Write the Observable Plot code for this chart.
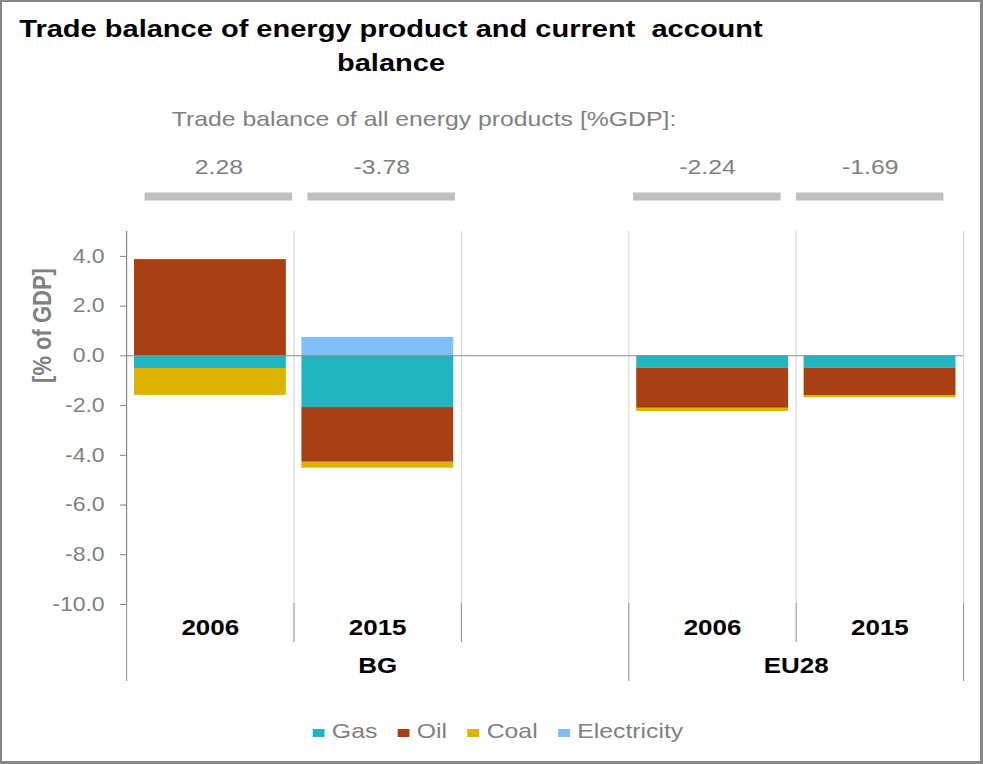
<!DOCTYPE html>
<html>
<head>
<meta charset="utf-8">
<script src="https://cdn.jsdelivr.net/npm/d3@7"></script>
<script src="https://cdn.jsdelivr.net/npm/@observablehq/plot@0.6"></script>
<style>
  html, body { margin: 0; padding: 0; background: #fff; }
  #page { position: relative; width: 983px; height: 764px; overflow: hidden; }
  #border { position: absolute; left: 0; top: 0; width: 983px; height: 764px; box-sizing: border-box;
            border: 2px solid #878787; border-right-width: 3px; border-bottom-width: 3px; pointer-events: none; }
  #wrap { position: absolute; left: 0; top: 0; width: 833px; height: 764px;
          transform: scaleX(1.180072); transform-origin: 0 0;
          font-family: "Liberation Sans", Arial, sans-serif; }
  .abs { position: absolute; left: 0; }
  #title { top: 12.3px; width: 662.7px; text-align: center; font-weight: bold; font-size: 24.6px;
           line-height: 34px; color: #000; }
  #subtitle { top: 106.5px; width: 718.6px; text-align: center; font-size: 21px; line-height: 24px; color: #808080; }
  #legend { top: 718px; left: 5.6px; width: 833px; height: 26px; display: flex; justify-content: center;
            align-items: center; font-size: 21px; color: #808080; }
  .item { display: flex; align-items: center; margin-right: 17.5px; }
  .item:last-child { margin-right: 0; }
  .sw { width: 10px; height: 8px; margin-right: 6px; margin-top: 3px; }
</style>
</head>
<body>
<div id="page">
  <div id="wrap">
    <div id="title" class="abs">Trade balance of energy product and current&nbsp; account<br>balance</div>
    <div id="subtitle" class="abs">Trade balance of all energy products [%GDP]:</div>
    <div id="header" class="abs" style="top:140px"></div>
    <div id="main" class="abs" style="top:220px"></div>
    <div id="cats" class="abs" style="top:603px"></div>
    <div id="legend" class="abs"></div>
  </div>
  <div id="border"></div>
</div>
<script>
// ---- data ----
const slotCountry = ["BG", "BG", "BG", "EU28", "EU28"];
const slotYear = ["2006", "2015", "", "2006", "2015"];
const seriesNames = ["Gas", "Oil", "Coal", "Electricity"];
const seriesColors = ["#21B6BF", "#AB3F14", "#DCB400", "#80BFFA"];
const gas = [-0.51, -2.08, null, -0.50, -0.50];
const oil = [3.87, -2.20, null, -1.61, -1.10];
const coal = [-1.08, -0.24, null, -0.13, -0.09];
const electricity = [0, 0.74, null, 0, 0];
const totalBalance = [2.28, -3.78, null, -2.24, -1.69];
const yTicks = [-10, -8, -6, -4, -2, 0, 2, 4];
const yTitle = "[% of GDP]";

const seriesValues = [gas, oil, coal, electricity];
const nSlots = slotYear.length;
const font = "Liberation Sans, Arial, sans-serif";
const baseStyle = {fontFamily: font, background: "transparent", overflow: "visible"};

// ---- header: totals with grey bars ----
const headerRows = totalBalance.map((v, i) => ({i, v})).filter(d => d.v != null);
const header = Plot.plot({
  width: 833, height: 80,
  marginLeft: 114.66, marginRight: 26.44, marginTop: 0, marginBottom: 0,
  style: baseStyle,
  x: {type: "band", domain: d3.range(nSlots), padding: 0, axis: null},
  y: {type: "point", domain: ["value", "bar"], range: [27, 56], padding: 0, axis: null},
  marks: [
    Plot.tickY(headerRows, {x: "i", y: () => "bar", stroke: "#bfbfbf", strokeWidth: 8, insetLeft: 6.5, insetRight: 6.5}),
    Plot.text(headerRows, {x: "i", y: () => "value", text: d => d.v.toFixed(2), fill: "#808080", fontSize: 21, lineAnchor: "middle"})
  ]
});
document.getElementById("header").appendChild(header);

// ---- main chart ----
const rows = [];
slotYear.forEach((yr, i) => {
  if (!yr) return;
  seriesNames.forEach((s, k) => rows.push({i, i2: i + 1, series: s, value: seriesValues[k][i]}));
});
const main = Plot.plot({
  width: 833, height: 395,
  marginLeft: 106.77, marginRight: 16.95, marginTop: 11, marginBottom: 11,
  style: baseStyle,
  x: {domain: [0, nSlots], axis: null},
  y: {domain: [-10, 5], axis: null},
  color: {domain: seriesNames, range: seriesColors},
  marks: [
    Plot.ruleX(d3.range(1, nSlots + 1), {stroke: "#d9d9d9"}),
    Plot.rectY(rows, Plot.stackY({x1: "i", x2: "i2", y: "value", fill: "series", insetLeft: 6.8, insetRight: 6.4})),
    Plot.ruleY([0], {stroke: "#868686"}),
    Plot.ruleX([0], {stroke: "#868686"}),
    Plot.axisY({ticks: yTicks, tickFormat: d => d.toFixed(1), tickSize: 5, tickPadding: 13.6,
                color: "#808080", fontSize: 19.5, label: null}),
    Plot.text([yTitle], {text: d => d, frameAnchor: "left", rotate: -90, dx: -71.2, dy: -92.5,
                         textAnchor: "middle", fontWeight: "bold", fontSize: 22, fill: "#808080", lineAnchor: "middle"})
  ]
});
document.getElementById("main").appendChild(main);

// ---- category axis (years / countries) ----
const bounds = d3.range(0, nSlots + 1);
const isLong = b => b === 0 || b === nSlots || slotCountry[b] !== slotCountry[b - 1];
const longBounds = bounds.filter(isLong);
const shortBounds = bounds.filter(b => !isLong(b));
const yearRows = slotYear.map((year, i) => ({i, year})).filter(d => d.year);
const groupRows = Array.from(d3.group(slotYear.map((y, i) => i), i => slotCountry[i]), ([country, idx]) =>
  ({country, center: (d3.min(idx) + d3.max(idx) + 1) / 2}));
const cats = Plot.plot({
  width: 833, height: 78,
  marginLeft: 106.77, marginRight: 16.95, marginTop: 0, marginBottom: 0,
  style: baseStyle,
  x: {domain: [0, nSlots], axis: null},
  y: {type: "band", domain: ["year", "country"], range: [0, 78], padding: 0, axis: null},
  marks: [
    Plot.tickX(shortBounds, {x: d => d, y: () => "year", stroke: "#9a9a9a"}),
    Plot.ruleX(longBounds, {stroke: "#9a9a9a"}),
    Plot.text(yearRows, {x: d => d.i + 0.5, y: () => "year", text: "year", fontWeight: "bold", fontSize: 22,
                         fill: "#000", dy: 5, lineAnchor: "middle"}),
    Plot.text(groupRows, {x: "center", y: () => "country", text: "country", fontWeight: "bold", fontSize: 22,
                          fill: "#000", dy: 4, lineAnchor: "middle"})
  ]
});
document.getElementById("cats").appendChild(cats);

// ---- legend ----
const legend = document.getElementById("legend");
seriesNames.forEach((s, k) => {
  const item = document.createElement("div");
  item.className = "item";
  const sw = document.createElement("div");
  sw.className = "sw";
  sw.style.background = seriesColors[k];
  const label = document.createElement("span");
  label.textContent = s;
  item.appendChild(sw);
  item.appendChild(label);
  legend.appendChild(item);
});
</script>
</body>
</html>
